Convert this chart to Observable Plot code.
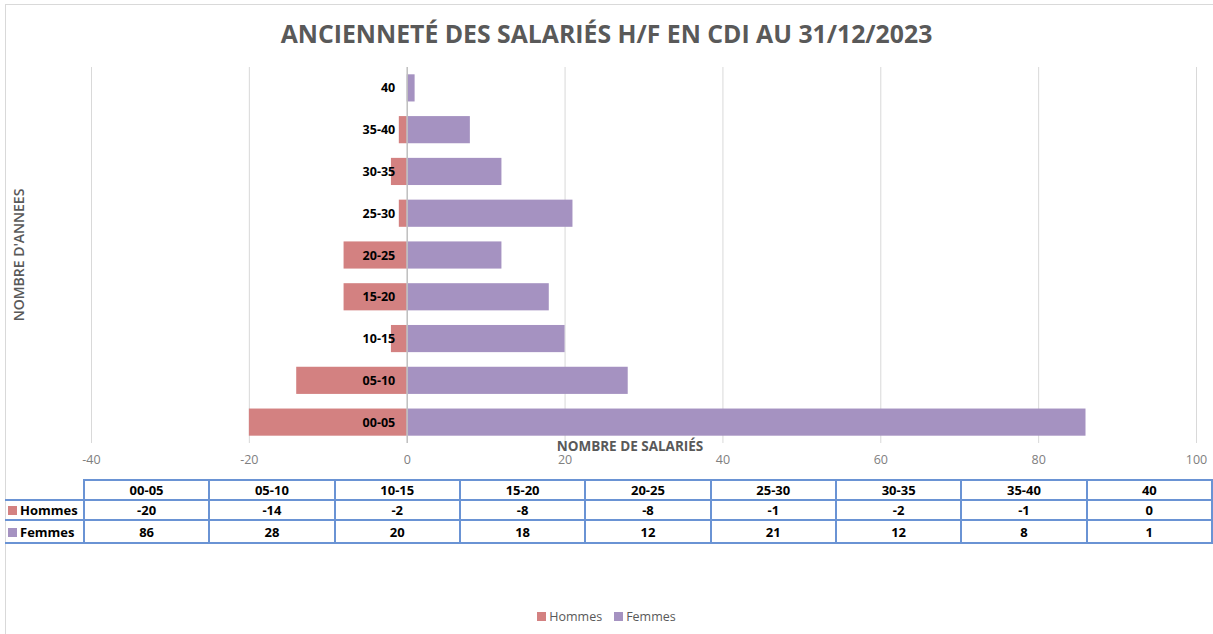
<!DOCTYPE html>
<html>
<head>
<meta charset="utf-8">
<script src="https://cdn.jsdelivr.net/npm/d3@7"></script>
<script src="https://cdn.jsdelivr.net/npm/@observablehq/plot@0.6"></script>
<style>
  html, body { margin: 0; padding: 0; background: #fff; }
  #wrap { position: relative; width: 1213px; height: 634px; overflow: hidden; font-family: "Open Sans", sans-serif; }
  #frame { position: absolute; left: 5px; top: 4px; width: 1215px; height: 640px; border: 1px solid #d9d9d9; box-sizing: border-box; }
  #title { position: absolute; left: 0; top: 16px; width: 1213px; text-align: center; font-size: 24.8px; font-weight: 700; color: #595959; }
  #chart { position: absolute; left: 0; top: 0; }
  #xlabel { position: absolute; left: 630px; top: 440px; line-height: 12px; transform: translateX(-50%); font-size: 13.5px; font-weight: 700; color: #595959; white-space: nowrap; }
  #ylabel { position: absolute; left: 18px; top: 255px; transform: translate(-50%, -50%) rotate(-90deg); font-size: 14px; font-weight: 600; color: #595959; white-space: nowrap; }
  #tbl { position: absolute; left: 5px; top: 479px; border-collapse: collapse; font-size: 13px; font-weight: 700; color: #000; }
  #tbl td { border: 2px solid #6a93d4; height: 18px; padding: 0; text-align: center; width: 124px; }
  #tbl tr.last td { height: 21px; }
  #tbl td.corner { border-top: none; border-left: none; width: 75px; }
  #tbl td.rh { text-align: left; width: 75px; border-left: none; padding-left: 3px; }
  .sw { display: inline-block; width: 9px; height: 9px; margin-right: 3px; vertical-align: 0px; }
  #legend { position: absolute; left: 0; top: 608px; width: 1213px; text-align: center; font-size: 12.5px; color: #595959; }
  #legend span.item { margin: 0 6px; }
</style>
</head>
<body>
<div id="wrap">
  <div id="frame"></div>
  <div id="chart"></div>
  <div id="title">ANCIENNETÉ DES SALARIÉS H/F EN CDI AU 31/12/2023</div>
  <div id="xlabel">NOMBRE DE SALARIÉS</div>
  <div id="ylabel">NOMBRE D'ANNEES</div>
  <table id="tbl"></table>
  <div id="legend"></div>
</div>
<script>
const categories = ["00-05", "05-10", "10-15", "15-20", "20-25", "25-30", "30-35", "35-40", "40"];
const hommes = [-20, -14, -2, -8, -8, -1, -2, -1, 0];
const femmes = [86, 28, 20, 18, 12, 21, 12, 8, 1];
const xTicks = [-40, -20, 0, 20, 40, 60, 80, 100];
const seriesNames = ["Hommes", "Femmes"];
const colors = ["#d38181", "#a592c1"];

const rows = [];
categories.forEach((c, i) => {
  rows.push({cat: c, serie: "Hommes", value: hommes[i]});
  rows.push({cat: c, serie: "Femmes", value: femmes[i]});
});

const chart = Plot.plot({
  width: 1213,
  height: 472,
  marginLeft: 91,
  marginRight: 17,
  marginTop: 67,
  marginBottom: 29,
  style: {fontFamily: "Open Sans, sans-serif", fontSize: "12px", background: "transparent"},
  x: {domain: [-40, 100], ticks: xTicks},
  y: {domain: categories.slice().reverse(), paddingInner: 0.35, paddingOuter: 0.175, round: false, axis: null},
  color: {domain: seriesNames, range: colors},
  marks: [
    Plot.ruleX(xTicks.filter(d => d !== 0), {stroke: "#d9d9d9", strokeWidth: 1}),
    Plot.barX(rows, {x: "value", y: "cat", fill: "serie"}),
    Plot.ruleX([0], {stroke: "#bfbfbf", strokeWidth: 1.5}),
    Plot.text(categories, {x: () => 0, y: d => d, text: d => d, dx: -12, textAnchor: "end", fontWeight: "bold", fontSize: 12.5, fill: "#000"}),
    Plot.axisX({ticks: xTicks, tickSize: 0, tickPadding: 12, tickFormat: d => String(d), fill: "#808080", fontSize: 12.5, label: null})
  ]
});
document.getElementById("chart").appendChild(chart);

// data table
const tbl = document.getElementById("tbl");
const head = document.createElement("tr");
const corner = document.createElement("td");
corner.className = "corner";
head.appendChild(corner);
categories.forEach(c => {
  const td = document.createElement("td");
  td.textContent = c;
  head.appendChild(td);
});
tbl.appendChild(head);
[hommes, femmes].forEach((vals, si) => {
  const tr = document.createElement("tr");
  if (si === 1) tr.className = "last";
  const th = document.createElement("td");
  th.className = "rh";
  th.innerHTML = `<span class="sw" style="background:${colors[si]}"></span>${seriesNames[si]}`;
  tr.appendChild(th);
  vals.forEach(v => {
    const td = document.createElement("td");
    td.textContent = String(v);
    tr.appendChild(td);
  });
  tbl.appendChild(tr);
});

// legend
document.getElementById("legend").innerHTML = seriesNames.map((n, i) =>
  `<span class="item"><span class="sw" style="background:${colors[i]}"></span>${n}</span>`).join("");
</script>
</body>
</html>
